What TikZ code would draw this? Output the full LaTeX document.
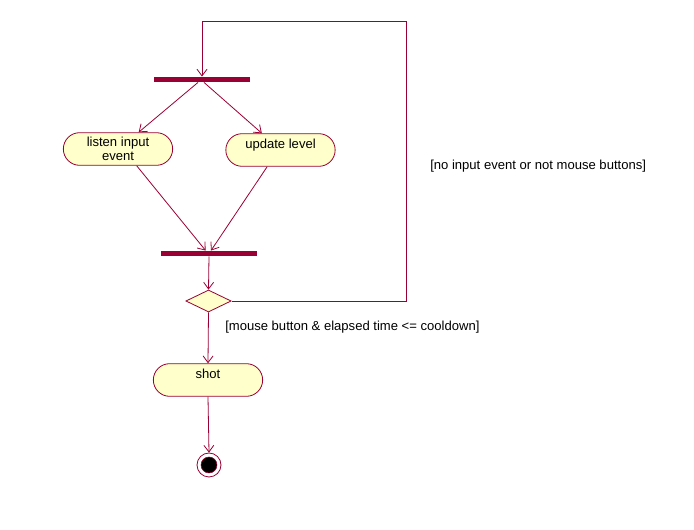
\documentclass[tikz,border=0pt]{standalone}
\usepackage{fontspec}
\setmainfont{Liberation Sans}
\usetikzlibrary{positioning,arrows.meta,shapes.misc,shapes.geometric}
\definecolor{umlline}{HTML}{990033}
\definecolor{umlfill}{HTML}{FFFFCC}
\tikzset{
  activity/.style={rounded rectangle, draw=umlline, fill=umlfill, line width=0.6pt,
    minimum width=84pt, minimum height=24.5pt, inner sep=1pt, align=center,
    font=\fontsize{9.8}{11}\selectfont},
  oneline/.style={text height=7pt, text depth=9pt},
  syncbar/.style={rectangle, fill=umlline, inner sep=0pt, minimum width=72pt, minimum height=4pt},
  choice/.style={diamond, draw=umlline, fill=umlfill, line width=0.6pt, inner sep=0pt,
    minimum width=34pt, minimum height=16.5pt},
  endring/.style={circle, draw=umlline, fill=white, line width=0.6pt, inner sep=0pt, minimum size=18pt},
  flow/.style={draw=umlline, line width=0.6pt, -{Straight Barb[length=5pt,width=7.5pt]}},
  guard/.style={anchor=west, inner sep=0pt, font=\fontsize{9.8}{11}\selectfont}
}
\begin{document}
\begin{tikzpicture}[x=0.75pt,y=-0.75pt]
\useasboundingbox (0,0) rectangle (694,530);
\node[syncbar] (fork) at (202,79.5) {};
\node[activity] (listen) at (118,149) {listen input\\event};
\node[activity,oneline] (update) at (280.5,150) {update level};
\node[syncbar] (join) at (209,253.5) {};
\node[choice] (decide) at (208.5,301) {};
\node[activity,oneline] (shot) at (208,380) {shot};
\node[endring] (final) at (209,465) {};
\fill[black, draw=umlline, line width=0.4pt] (final.center) circle (6pt);
\coordinate (loopturn) at (406,21);
\node[guard] (noinput) at (430,166.5) {[no input event or not mouse buttons]};
\node[guard] (fire) at (225,327.5) {[mouse button \& elapsed time <= cooldown]};
\draw[flow] ([xshift=-3pt]fork.south) -- ([xshift=15.5pt]listen.north);
\draw[flow] ([xshift=1.5pt]fork.south) -- ([xshift=-14pt]update.north);
\draw[flow] ([xshift=14pt]listen.south) -- ([xshift=-2.5pt]join.north);
\draw[flow] ([xshift=-10pt]update.south) -- ([xshift=1.5pt]join.north);
\draw[flow] (join.south) -- (decide.north);
\draw[flow] (decide.south) -- (shot.north);
\draw[flow] (shot.south) -- (final.north);
\draw[flow] (decide.east) -| (loopturn) -| (fork.north);
\end{tikzpicture}
\end{document}
